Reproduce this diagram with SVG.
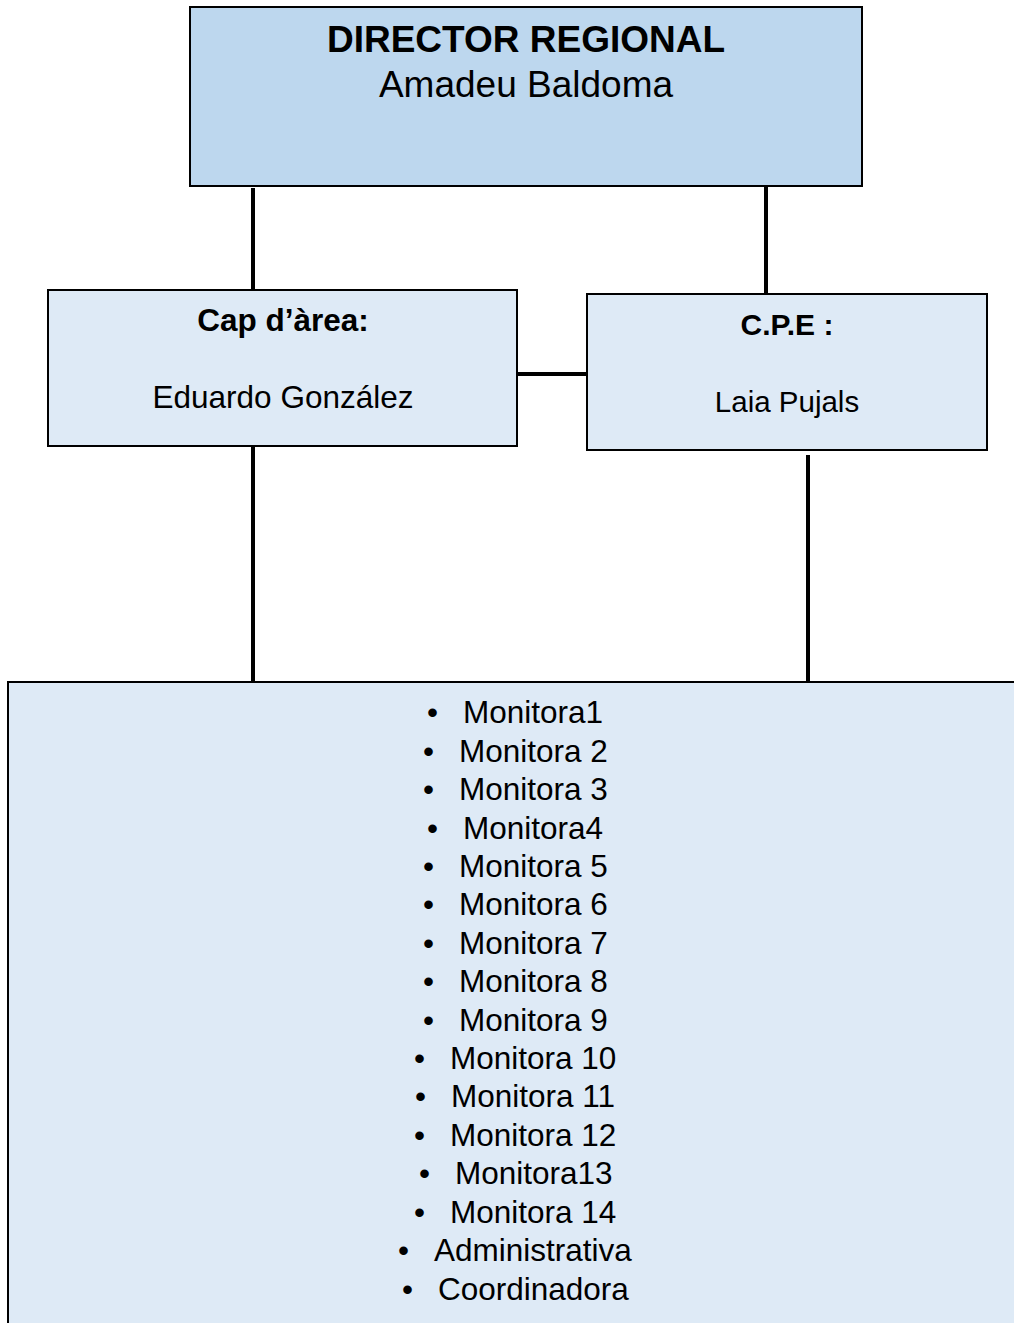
<svg xmlns="http://www.w3.org/2000/svg" width="1014" height="1323" viewBox="0 0 1014 1323">
<style>
.box{stroke:#000;stroke-width:2}
.top{fill:#BDD7EE}
.light{fill:#DEEAF6}
.t{font-family:"Liberation Sans",Arial,sans-serif;fill:#000}
.b{font-weight:bold}
.c{text-anchor:middle}
.li{font-size:31.5px}
.conn line{stroke:#000;stroke-width:4}
</style>
<rect width="1014" height="1323" fill="#fff"/>
<g class="conn">
<line x1="253" y1="188" x2="253" y2="291"/>
<line x1="766" y1="187" x2="766" y2="295"/>
<line x1="517" y1="374" x2="588" y2="374"/>
<line x1="253" y1="446" x2="253" y2="683"/>
<line x1="808" y1="455" x2="808" y2="683"/>
</g>
<g id="director">
<rect class="box top" x="190" y="7" width="672" height="179"/>
<text class="t b c" x="526" y="52" font-size="37">DIRECTOR REGIONAL</text>
<text class="t c" x="526" y="97" font-size="37">Amadeu Baldoma</text>
</g>
<g id="cap">
<rect class="box light" x="48" y="290" width="469" height="156"/>
<text class="t b c" x="283" y="331" font-size="31.5">Cap d’àrea:</text>
<text class="t c" x="283" y="408" font-size="31.5">Eduardo González</text>
</g>
<g id="cpe">
<rect class="box light" x="587" y="294" width="400" height="156"/>
<text class="t b c" x="787" y="335" font-size="30">C.P.E :</text>
<text class="t c" x="787" y="412" font-size="29.5">Laia Pujals</text>
</g>
<g id="staff">
<rect class="box light" x="8" y="682" width="1020" height="660"/>
<g class="t li">
<text x="427" y="723">•</text><text x="463" y="723">Monitora1</text>
<text x="423" y="762">•</text><text x="459" y="762">Monitora 2</text>
<text x="423" y="800">•</text><text x="459" y="800">Monitora 3</text>
<text x="427" y="839">•</text><text x="463" y="839">Monitora4</text>
<text x="423" y="877">•</text><text x="459" y="877">Monitora 5</text>
<text x="423" y="915">•</text><text x="459" y="915">Monitora 6</text>
<text x="423" y="954">•</text><text x="459" y="954">Monitora 7</text>
<text x="423" y="992">•</text><text x="459" y="992">Monitora 8</text>
<text x="423" y="1031">•</text><text x="459" y="1031">Monitora 9</text>
<text x="414" y="1069">•</text><text x="450" y="1069">Monitora 10</text>
<text x="415" y="1107">•</text><text x="451" y="1107">Monitora 11</text>
<text x="414" y="1146">•</text><text x="450" y="1146">Monitora 12</text>
<text x="419" y="1184">•</text><text x="455" y="1184">Monitora13</text>
<text x="414" y="1223">•</text><text x="450" y="1223">Monitora 14</text>
<text x="398" y="1261">•</text><text x="434" y="1261">Administrativa</text>
<text x="402" y="1300">•</text><text x="438" y="1300">Coordinadora</text>
</g>
</g>
</svg>
